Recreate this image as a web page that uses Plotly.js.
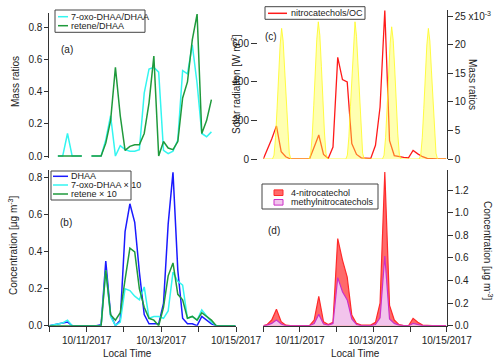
<!DOCTYPE html>
<html>
<head>
<meta charset="utf-8">
<script src="https://cdn.plot.ly/plotly-3.0.1.min.js"></script>
<style>html,body{margin:0;padding:0;background:#fff}</style>
</head>
<body>
<div id="chart" style="width:500px;height:363px"></div>
<script>
// filter samples, hours after 10/10/2017 00:00
const sampleHour = [0, 2.4, 5.5, 8.6, 11.7, 14.7, 17.8, 20.9, 24.0, 27.1, 30.2, 33.3, 36.3, 39.4, 42.5, 45.6,
  48.7, 51.8, 54.9, 57.9, 61.0, 64.1, 67.2, 70.3, 73.4, 76.4, 79.5, 82.6, 85.7, 88.8, 91.9, 95.0,
  98.0, 101.1, 104.2, 107.3, 110.4, 113.5, 116.6, 119.6];

// (a) mass ratios
const oxoRatio = [null, null, 0, 0, 0.14, 0, 0, 0, null, 0, 0, 0, 0.1, 0.25, 0, 0.065,
  0.04, 0.03, 0.03, 0.04, 0.39, 0.54, 0.55, 0.52, 0.035, 0.015, 0.03, 0.1, 0.53, 0.51, 0.69, 0.45,
  0.14, 0.12, 0.15, null, null, null, null, null];
const reteneRatio = [null, null, 0, 0, 0, 0, 0, 0, null, 0, 0, 0, 0.08, 0.22, 0.55, 0.25,
  0.035, 0.06, 0.07, 0.07, 0.14, 0.33, 0.62, 0, 0.09, 0.05, 0.04, 0.09, 0.36, 0.46, 0.72, 0.88,
  0.14, 0.22, 0.35, null, null, null, null, null];

// (b) concentrations, ug m-3
const dhaa = [0, 0.005, 0.01, 0.015, 0.02, 0, 0, 0, 0, 0, 0, 0.005, 0.35, 0.06, 0, 0.03,
  0.51, 0.66, 0.56, 0.29, 0.06, 0.01, 0.01, 0.01, 0.12, 0.55, 0.83, 0.3, 0.04, 0.01, 0.01, 0,
  0.05, 0.03, 0.01, 0, 0, 0, 0, 0];
const oxoDhaa10 = [0, 0.005, 0.01, 0.015, 0.03, 0, 0, 0, 0, 0, 0, 0, 0.3, 0.05, 0, 0.02,
  0.2, 0.19, 0.16, 0.14, 0.21, 0.04, 0.05, 0.05, 0.04, 0.08, 0.29, 0.24, 0.22, 0.04, 0.05, 0.03,
  0.085, 0.05, 0.02, 0, 0, 0, 0, 0];
const retene10 = [0, 0, 0, 0, 0, 0, 0, 0, 0, 0, 0, 0, 0.3, 0.06, 0.03, 0.07,
  0.25, 0.42, 0.4, 0.2, 0.1, 0.04, 0.03, 0, 0.1, 0.27, 0.34, 0.17, 0.14, 0.04, 0.05, 0.03,
  0.07, 0.05, 0.03, 0, 0, 0, 0, 0];

// (c) nitrocatechols/OC in units of 1e-3
const ncOC = [0, 1.5, 3.5, 5.8, 1.3, 0.4, 0, 0, 0, 0, 0, 2.1, 4.2, 0.8, 0.1, 2.1,
  17.8, 13.9, 13.5, 2.7, 0.8, 0.2, 0.2, 0.1, 2.4, 9.1, 26, 3.2, 0.6, 0.4, 0.3, 0.2,
  1.5, 0.9, 0.4, 0.1, 0, 0, 0, 0];

// (d) concentrations, ug m-3
const nitrocatechol4 = [0, 0.01, 0.05, 0.145, 0.035, 0.005, 0, 0, 0, 0, 0, 0.05, 0.26, 0.035, 0.01, 0.03,
  0.77, 0.58, 0.43, 0.095, 0.02, 0.005, 0.002, 0.005, 0.03, 0.2, 1.36, 0.18, 0.05, 0.01, 0, 0,
  0.065, 0.03, 0.005, 0, 0, 0, 0, 0];
const methylNitrocatechols = [0, 0.005, 0.02, 0.05, 0.015, 0, 0, 0, 0, 0, 0, 0.02, 0.1, 0.015, 0.005, 0.02,
  0.425, 0.3, 0.228, 0.06, 0.01, 0, 0, 0, 0.01, 0.07, 0.616, 0.06, 0.02, 0.005, 0, 0,
  0.02, 0.01, 0, 0, 0, 0, 0, 0];

// hourly solar radiation, W m-2, from 10/10 00:00
const solarRad = [
  0, 0, 0, 0, 0, 0, 0, 20, 110, 260, 430, 590, 676, 610, 460, 290, 130, 30, 0, 0, 0, 0, 0, 0,
  0, 0, 0, 0, 0, 0, 0, 25, 120, 275, 450, 620, 710, 640, 480, 300, 140, 30, 0, 0, 0, 0, 0, 0,
  0, 0, 0, 0, 0, 0, 0, 20, 115, 270, 445, 615, 710, 635, 475, 300, 135, 30, 0, 0, 0, 0, 0, 0,
  0, 0, 0, 0, 0, 0, 0, 20, 110, 265, 435, 600, 684, 615, 465, 290, 130, 25, 0, 0, 0, 0, 0, 0,
  0, 0, 0, 0, 0, 0, 0, 20, 110, 260, 430, 590, 676, 610, 460, 290, 130, 30, 0, 0, 0, 0, 0, 0,
  0];

const labelDays = ['2017-10-11', '2017-10-13', '2017-10-15'];
const labelText = ['10/11/2017', '10/13/2017', '10/15/2017'];
const allDays = ['2017-10-10', '2017-10-11', '2017-10-12', '2017-10-13', '2017-10-14', '2017-10-15'];

const start = Date.UTC(2017, 9, 10);
const toDate = h => new Date(start + h * 3600000).toISOString().slice(0, 19).replace('T', ' ');
const t = sampleHour.map(toDate);
const tSolar = solarRad.map((v, i) => toDate(i));

const W = 500, H = 363;
const px = x => x / W;
const py = y => 1 - y / H;

const FONT = 'Liberation Sans, Arial, sans-serif';
const INK = '#222';
const CYAN = '#33f5f0';
const GREEN = '#1f9a3c';
const BLUE = '#1a1aff';
const RED = '#ff1a1a';

const line = (x, y, xa, ya, color, name) => ({
  x, y, xaxis: xa, yaxis: ya, name, type: 'scatter', mode: 'lines',
  line: { color, width: 1.5 }, connectgaps: false, showlegend: false, hoverinfo: 'skip'
});

const traces = [
  line(t, oxoRatio, 'x', 'y', CYAN, '7-oxo-DHAA/DHAA'),
  line(t, reteneRatio, 'x', 'y', GREEN, 'retene/DHAA'),
  line(t, dhaa, 'x2', 'y2', BLUE, 'DHAA'),
  line(t, oxoDhaa10, 'x2', 'y2', CYAN, '7-oxo-DHAA × 10'),
  line(t, retene10, 'x2', 'y2', GREEN, 'retene × 10'),
  Object.assign(line(t, ncOC, 'x3', 'y3', RED, 'nitrocatechols/OC'), { line: { color: RED, width: 1.3 } }),
  {
    x: tSolar, y: solarRad, xaxis: 'x3', yaxis: 'y4', type: 'scatter', mode: 'lines',
    fill: 'tozeroy', fillcolor: 'rgba(255,255,60,0.4)', line: { color: 'rgba(255,250,40,0.85)', width: 1 },
    showlegend: false, hoverinfo: 'skip', name: 'Solar radiation'
  },
  {
    x: t, y: nitrocatechol4, xaxis: 'x4', yaxis: 'y5', type: 'scatter', mode: 'lines',
    fill: 'tozeroy', fillcolor: '#ff6a6a', line: { color: '#ff2a2a', width: 1.2 },
    showlegend: false, hoverinfo: 'skip', name: '4-nitrocatechol'
  },
  {
    x: t, y: methylNitrocatechols, xaxis: 'x4', yaxis: 'y5', type: 'scatter', mode: 'lines',
    fill: 'tozeroy', fillcolor: '#f2c4ec', line: { color: '#cc30c8', width: 1.2 },
    showlegend: false, hoverinfo: 'skip', name: 'methylnitrocatechols'
  }
];

const xRange = ['2017-10-10 00:00', '2017-10-15 00:00'];
const leftDom = [px(49.3), px(236)];
const rightDom = [px(263.3), px(446.7)];
const tickFont = { family: FONT, size: 10, color: INK };

const baseY = {
  showgrid: false, zeroline: false, showline: true, linecolor: '#333', linewidth: 1,
  ticks: 'outside', ticklen: 4, tickcolor: '#333', tickfont: tickFont, fixedrange: true
};
const hiddenX = { type: 'date', range: xRange, visible: false, fixedrange: true };
const dateX = {
  type: 'date', range: xRange, showgrid: false, zeroline: false, showline: true,
  linecolor: '#333', ticks: 'outside', ticklen: 5, tickcolor: '#333',
  tickmode: 'array', tickvals: labelDays, ticktext: labelText, tickfont: tickFont, fixedrange: true,
  minor: { tickmode: 'array', tickvals: allDays, ticks: 'outside', ticklen: 5, tickcolor: '#333', showgrid: false }
};

const layout = {
  width: W, height: H,
  margin: { l: 0, r: 0, t: 0, b: 0 },
  paper_bgcolor: '#fff', plot_bgcolor: 'rgba(0,0,0,0)',
  font: { family: FONT, size: 10, color: INK },
  showlegend: false,
  xaxis: Object.assign({}, hiddenX, { domain: leftDom, anchor: 'y' }),
  yaxis: Object.assign({}, baseY, {
    domain: [py(158), py(13)], range: [-0.012, 0.887], anchor: 'x',
    tickmode: 'array', tickvals: [0, 0.2, 0.4, 0.6, 0.8], tickformat: '.1f'
  }),
  xaxis2: Object.assign({}, dateX, { domain: leftDom, anchor: 'y2' }),
  yaxis2: Object.assign({}, baseY, {
    domain: [py(325.7), py(170)], range: [0, 0.843], anchor: 'x2',
    tickmode: 'array', tickvals: [0, 0.2, 0.4, 0.6, 0.8], tickformat: '.1f'
  }),
  xaxis3: Object.assign({}, hiddenX, { domain: rightDom, anchor: 'y3' }),
  yaxis3: Object.assign({}, baseY, {
    domain: [py(159), py(10)], range: [0, 26.1], anchor: 'x3', side: 'right', ticklen: 5,
    tickmode: 'array', tickvals: [0, 5, 10, 15, 20, 25],
    ticktext: ['0', '5', '10', '15', '20', '25 x10<sup>-3</sup>']
  }),
  yaxis4: Object.assign({}, baseY, {
    overlaying: 'y3', side: 'left', anchor: 'free', position: px(257), range: [0, 771],
    showline: false, tickmode: 'array', tickvals: [0, 200, 400, 600], ticklen: 6
  }),
  xaxis4: Object.assign({}, dateX, { domain: rightDom, anchor: 'y5' }),
  yaxis5: Object.assign({}, baseY, {
    domain: [py(325.7), py(170)], range: [0, 1.377], anchor: 'x4', side: 'right', ticklen: 5,
    tickmode: 'array', tickvals: [0, 0.2, 0.4, 0.6, 0.8, 1.0, 1.2], tickformat: '.1f'
  }),
  shapes: [],
  annotations: []
};

const text = (x, y, s, opts) => Object.assign({
  xref: 'paper', yref: 'paper', x: px(x), y: py(y), text: s, showarrow: false,
  xanchor: 'left', yanchor: 'middle', font: { family: FONT, size: 10, color: INK }
}, opts || {});

// axis titles and panel letters
layout.annotations.push(
  text(15, 82, 'Mass ratios', { textangle: -90, xanchor: 'center' }),
  text(13, 246, 'Concentration [µg m<sup>-3</sup>]', { textangle: -90, xanchor: 'center' }),
  text(236, 84, 'Solar radiation [W m<sup>-2</sup>]', { textangle: -90, xanchor: 'center' }),
  text(473, 84, 'Mass ratios', { textangle: 90, xanchor: 'center' }),
  text(488, 250, 'Concentration [µg m<sup>-3</sup>]', { textangle: 90, xanchor: 'center' }),
  text(127, 353, 'Local Time', { xanchor: 'center' }),
  text(355, 353, 'Local Time', { xanchor: 'center' }),
  text(59, 49, '(a)'),
  text(58, 222, '(b)'),
  text(263, 36, '(c)'),
  text(266, 230, '(d)')
);

// legends drawn by hand to keep the short Igor-style samples
const legendFont = { family: FONT, size: 9, color: INK };
function addLegend(box, items) {
  layout.shapes.push({
    type: 'rect', xref: 'paper', yref: 'paper',
    x0: px(box[0]), x1: px(box[1]), y0: py(box[2]), y1: py(box[3]),
    line: { color: '#444', width: 1 }, fillcolor: '#fff'
  });
  items.forEach(it => {
    if (it.swatch) {
      layout.shapes.push({
        type: 'rect', xref: 'paper', yref: 'paper',
        x0: px(it.x0), x1: px(it.x1), y0: py(it.y - 2.8), y1: py(it.y + 2.8),
        line: { color: it.edge, width: 1 }, fillcolor: it.color
      });
    } else {
      layout.shapes.push({
        type: 'line', xref: 'paper', yref: 'paper',
        x0: px(it.x0), x1: px(it.x1), y0: py(it.y), y1: py(it.y),
        line: { color: it.color, width: 1.5 }
      });
    }
    layout.annotations.push(text(it.tx, it.y, it.label, { font: legendFont }));
  });
}

addLegend([55, 145, 10, 32.3], [
  { x0: 58, x1: 68, y: 16.7, tx: 69, color: CYAN, label: '7-oxo-DHAA/DHAA' },
  { x0: 58, x1: 68, y: 25.7, tx: 69, color: GREEN, label: 'retene/DHAA' }
]);
addLegend([51, 131, 171, 200], [
  { x0: 53, x1: 68, y: 176.3, tx: 69, color: BLUE, label: 'DHAA' },
  { x0: 53, x1: 68, y: 185, tx: 69, color: CYAN, label: '7-oxo-DHAA × 10' },
  { x0: 53, x1: 68, y: 194, tx: 69, color: GREEN, label: 'retene × 10' }
]);
addLegend([265, 365, 6.7, 19.3], [
  { x0: 268, x1: 287, y: 13.3, tx: 289, color: RED, label: 'nitrocatechols/OC' }
]);
addLegend([262, 378, 184, 209], [
  { swatch: true, x0: 274, x1: 283, y: 192.7, tx: 289, color: '#ff6a6a', edge: '#ff2a2a', label: '4-nitrocatechol' },
  { swatch: true, x0: 274, x1: 283, y: 202.3, tx: 289, color: '#f2c4ec', edge: '#cc30c8', label: 'methylnitrocatechols' }
]);

Plotly.newPlot('chart', traces, layout, { staticPlot: true, displayModeBar: false });
</script>
</body>
</html>
